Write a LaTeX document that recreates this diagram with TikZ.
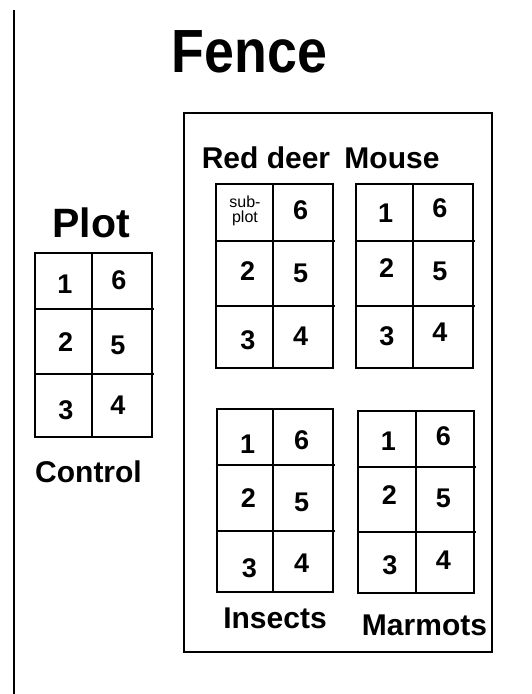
\documentclass[tikz,border=0pt]{standalone}
\usepackage{fontspec}
\setmainfont{Liberation Sans}
\newcommand\mygrid[7]{%
  \draw[gridline] (#1,#2) rectangle (#3,#4);
  \draw[gridline] (#5,#2) -- (#5,#4);
  \draw[gridline] (#1-1.5,#6) -- (#3+1.5,#6);
  \draw[gridline] (#1-1.5,#7) -- (#3+1.5,#7);
}
\begin{document}
\begin{tikzpicture}[x=1pt,y=-1pt,
  gridline/.style={line width=1.8pt},
  num/.style={font=\fontsize{27}{27}\selectfont\bfseries, inner sep=0pt},
  lbl/.style={font=\fontsize{30}{30}\selectfont\bfseries, anchor=base, inner sep=0pt},
  ]
\useasboundingbox (0,0) rectangle (532,694);
% left line
\coordinate (ltop) at (14,10);
\coordinate (lbot) at (14,694);
\draw[line width=2pt] (ltop) -- (lbot);
% title
\node[anchor=base, inner sep=0pt] (fence) at (249.5,72) {\fontsize{61}{61}\selectfont\bfseries\scalebox{0.88}[1]{Fence}};
% fence box
\draw[line width=2.4pt] (184,113) rectangle (492,652);
% labels
\node[lbl] (reddeer) at (266,168) {Red deer};
\node[lbl] (mouse) at (392,168) {Mouse};
\node[lbl, font=\fontsize{41}{41}\selectfont\bfseries] (plot) at (91,237) {Plot};
\node[lbl] (control) at (88.5,482) {Control};
\node[lbl] (insects) at (275,628) {Insects};
\node[lbl] (marmots) at (424.5,635) {Marmots};
% grids
\mygrid{35}{253}{152}{437}{92}{309}{374}
\mygrid{216}{184}{333}{368}{273}{241}{306}
\mygrid{356}{184}{473}{368}{413}{241}{306}
\mygrid{217}{409}{333}{592}{273}{465}{531}
\mygrid{358}{411}{474}{593}{416}{467}{532}
% Plot (control)
\node[num] (p1) at (65,284) {1};
\node[num] (p6) at (119,280) {6};
\node[num] (p2) at (65.7,341.7) {2};
\node[num] (p5) at (118,345) {5};
\node[num] (p3) at (66,410) {3};
\node[num] (p4) at (118,405) {4};
% Red deer
\node[align=center, inner sep=0pt, font=\fontsize{16}{15}\selectfont] (rdsub) at (245,211) {sub-\\plot};
\node[num] (rd6) at (300.7,210) {6};
\node[num] (rd2) at (247.7,271) {2};
\node[num] (rd5) at (300.7,273) {5};
\node[num] (rd3) at (248,340.7) {3};
\node[num] (rd4) at (300.7,336) {4};
% Mouse
\node[num] (m1) at (385.7,213) {1};
\node[num] (m6) at (440,208) {6};
\node[num] (m2) at (386.7,268) {2};
\node[num] (m5) at (440,271.7) {5};
\node[num] (m3) at (387,336.7) {3};
\node[num] (m4) at (440,332.7) {4};
% Insects
\node[num] (i1) at (247.7,444) {1};
\node[num] (i6) at (301.7,440) {6};
\node[num] (i2) at (248.3,498) {2};
\node[num] (i5) at (301.7,502.7) {5};
\node[num] (i3) at (249.3,568.3) {3};
\node[num] (i4) at (301.7,563.3) {4};
% Marmots
\node[num] (a1) at (388.3,441.7) {1};
\node[num] (a6) at (443.3,436) {6};
\node[num] (a2) at (389.3,495) {2};
\node[num] (a5) at (443.3,498.3) {5};
\node[num] (a3) at (390,565) {3};
\node[num] (a4) at (443.3,560) {4};
\end{tikzpicture}
\end{document}
